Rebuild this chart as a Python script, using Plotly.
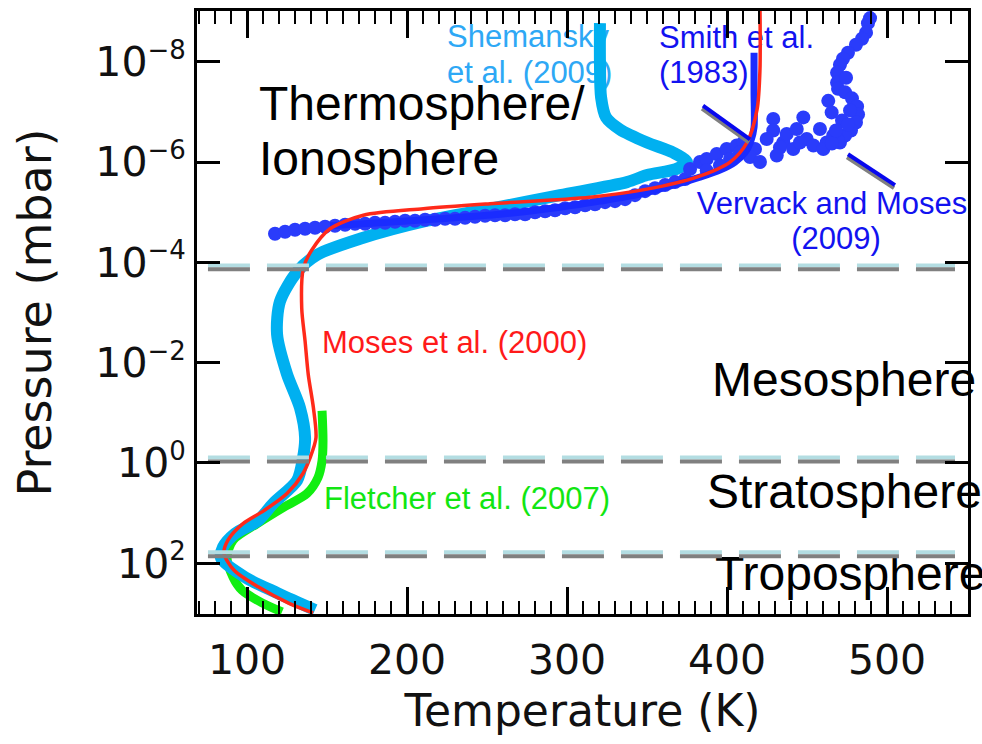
import plotly.graph_objects as go

# ---------------- data (Temperature in K, log10 of pressure in mbar) ----------------
moses_T = [141.3, 126.3, 106.9, 91.9, 85.6, 88.1, 97.5, 110.6, 125.0, 135.0, 139.4, 143.1,
           141.5, 138.3, 136.3, 134.2, 135.2, 140.4, 151.9, 172.7, 210.2, 251.9, 314.4,
           350.0, 381.0, 401.9, 412.5, 418.8, 420.6, 420.6]
moses_logp = [2.99, 2.80, 2.47, 2.14, 1.80, 1.54, 1.21, 0.95, 0.61, 0.21, -0.10, -0.50,
              -1.10, -1.76, -2.43, -3.09, -3.88, -4.24, -4.67, -4.94, -5.07, -5.17, -5.30,
              -5.46, -5.70, -6.00, -6.39, -7.05, -7.84, -9.10]

shemansky_T = [320.6, 320.6, 321.3, 324.4, 333.1, 350.0, 366.3, 375.0, 368.1, 350.0, 337.5,
               295.6, 253.8, 212.5, 170.6, 143.8, 131.3, 120.6, 118.8, 125.0, 133.1, 136.3,
               135.0, 131.3, 116.3, 106.9, 92.5, 85.0, 83.8, 98.8, 119.4, 142.5]
shemansky_logp = [-8.77, -7.98, -7.29, -6.89, -6.65, -6.39, -6.19, -6.00, -5.86, -5.74, -5.60,
                  -5.34, -5.08, -4.83, -4.47, -4.15, -3.81, -3.22, -2.56, -1.77, -1.10, -0.50,
                  -0.10, 0.35, 0.81, 1.15, 1.41, 1.68, 1.90, 2.28, 2.60, 2.93]

fletcher_T = [146.9, 147.5, 146.9, 144.4, 137.5, 122.5, 106.3, 91.3, 87.5, 91.3, 96.9, 109.4, 121.9]
fletcher_logp = [-1.04, -0.44, -0.04, 0.29, 0.61, 0.89, 1.21, 1.54, 1.88, 2.28, 2.54, 2.79, 2.97]

smith_T = [416.9, 416.9, 416.9, 415.0, 411.3, 405.0, 395.6, 383.1, 366.3, 345.6, 320.6,
           295.6, 258.1, 220.6, 183.1, 151.9]
smith_logp = [-8.18, -7.39, -6.69, -6.43, -6.19, -6.00, -5.84, -5.70, -5.54, -5.36, -5.22,
              -5.10, -4.96, -4.87, -4.79, -4.73]

vervack_T = [117.5, 123.8, 130.0, 136.3, 142.5, 148.8, 155.0, 161.3, 167.5, 173.8, 180.0,
             186.3, 192.5, 198.8, 205.0, 211.3, 217.5, 223.8, 230.0, 236.3, 242.5, 248.8,
             255.0, 261.3, 267.5, 273.8, 280.0, 286.3, 292.5, 298.8, 305.0, 311.3, 317.5,
             323.8, 330.0, 336.3, 342.5, 348.8, 355.0, 361.3, 367.5, 373.8,
             376.9, 383.1, 387.3, 393.6, 399.8, 406.1, 410.2, 408.1, 401.9, 395.6, 387.3,
             428.9, 428.9, 424.8, 417.5, 414.4, 435.2, 437.3, 443.6, 447.7, 449.8, 454.0,
             458.1, 463.3, 465.4, 462.3, 460.2, 470.6, 466.4, 433.1, 441.4, 445.6, 431.1, 420.6,
             489.4, 488.1, 486.9, 484.4, 480.6, 475.6, 472.5, 470.6, 468.8, 468.8, 469.4,
             473.8, 478.1, 481.3, 481.9, 480.6, 477.5, 473.8, 469.4, 465.6, 474.4, 476.9,
             471.9, 468.1, 475.6]
vervack_logp = [-4.57, -4.61, -4.65, -4.67, -4.69, -4.71, -4.73, -4.75, -4.77, -4.77, -4.79,
                -4.79, -4.81, -4.83, -4.83, -4.85, -4.85, -4.87, -4.87, -4.89, -4.91, -4.93,
                -4.94, -4.94, -4.96, -4.96, -5.00, -5.02, -5.04, -5.08, -5.10, -5.14, -5.16,
                -5.20, -5.22, -5.26, -5.34, -5.42, -5.48, -5.54, -5.60, -5.66,
                -5.86, -6.00, -6.06, -6.16, -6.26, -6.33, -6.39, -6.19, -6.06, -5.93, -5.83,
                -6.86, -6.63, -6.46, -6.26, -6.10, -6.39, -6.56, -6.66, -6.89, -6.46, -6.33,
                -6.66, -7.22, -6.99, -6.39, -6.26, -6.39, -6.53, -6.29, -6.26, -6.39, -6.13, -6.00,
                -8.87, -8.77, -8.58, -8.46, -8.34, -8.18, -8.06, -7.94, -7.78, -7.58, -7.46,
                -7.39, -7.27, -7.11, -6.95, -6.79, -6.63, -6.53, -6.43, -6.37, -7.68, -7.03,
                -6.83, -6.63, -6.75]

boundary_logp = [-3.90, -0.07, 1.82]   # region boundaries (log10 mbar)
boundary_T = [75.6, 542.5]

xtick_vals = [100, 200, 300, 400, 500]
ytick_vals = [1e-8, 1e-6, 1e-4, 1e-2, 1e0, 1e2]
ytick_exp = ["\u22128", "\u22126", "\u22124", "\u22122", "0", "2"]

# ---------------- geometry ----------------
W, H = 982, 744
L, R, T_, B = 197, 14, 8, 130
XMIN, XMAX = 68.75, 550.625
YBOT, YTOP = 3.012, -9.012   # log10 p at bottom / top


def tx(px):
    return XMIN + (px - L) / (W - R - L) * (XMAX - XMIN)


def py_(py):
    return 10 ** (YTOP + (py - T_) / (H - B - T_) * (YBOT - YTOP))


def P(lst):
    return [10 ** v for v in lst]


FONT = "Liberation Sans, Arial, sans-serif"
AXFONT = "DejaVu Sans, sans-serif"
fig = go.Figure()


def label(x, baseline, text, size, color, pos="middle right"):
    # x: left edge (or centre) in pixels, baseline: text baseline in pixels
    fig.add_trace(go.Scatter(x=[tx(x)], y=[py_(baseline - 0.35 * size)], mode="text",
                             text=[text], textposition=pos, cliponaxis=False,
                             hoverinfo="skip", marker=dict(size=0),
                             textfont=dict(family=FONT, size=size, color=color)))


BIG, SMALL = 48, 31
# text labels (drawn beneath the curves)
label(259, 122, "Thermosphere/", BIG, "black")
label(259, 178, "Ionosphere", BIG, "black")
label(712, 400, "Mesosphere", BIG, "black")
label(707, 512, "Stratosphere", BIG, "black")
label(715, 595, "Troposphere", BIG, "black")
label(447, 47, "Shemansky", SMALL, "#2ea8f5")
label(447, 83, "et al. (2009)", SMALL, "#2ea8f5")
label(659, 48, "Smith et al.", SMALL, "#1212f0")
label(659, 83, "(1983)", SMALL, "#1212f0")
label(832, 215, "Vervack and Moses", SMALL, "#1212f0", pos="middle center")
label(836, 250, "(2009)", SMALL, "#1212f0", pos="middle center")
label(322, 355, "Moses et al. (2000)", SMALL, "#ff1a1a")
label(324, 512, "Fletcher et al. (2007)", SMALL, "#12e612")

# curves
fig.add_trace(go.Scatter(x=fletcher_T, y=P(fletcher_logp), mode="lines",
                         line=dict(color="#11ee11", width=9, shape="spline", smoothing=0.8),
                         hoverinfo="skip"))
fig.add_trace(go.Scatter(x=shemansky_T, y=P(shemansky_logp), mode="lines",
                         line=dict(color="#00b0f0", width=12, shape="spline", smoothing=0.8),
                         hoverinfo="skip"))
fig.add_trace(go.Scatter(x=vervack_T, y=P(vervack_logp), mode="markers",
                         marker=dict(color="#2a3cfb", size=14, line=dict(width=0)),
                         hoverinfo="skip"))
fig.add_trace(go.Scatter(x=smith_T, y=P(smith_logp), mode="lines",
                         line=dict(color="#1a2cff", width=7, shape="spline", smoothing=0.8),
                         hoverinfo="skip"))
fig.add_trace(go.Scatter(x=moses_T, y=P(moses_logp), mode="lines",
                         line=dict(color="#ff2a1a", width=3.5, shape="spline", smoothing=0.8),
                         hoverinfo="skip"))

# region boundaries: light band above a grey band
off = 2 / 50.5
for lp in boundary_logp:
    fig.add_trace(go.Scatter(x=boundary_T, y=[10 ** (lp - off)] * 2, mode="lines",
                             line=dict(color="#b3dde2", width=4, dash="42px,17px"),
                             hoverinfo="skip"))
    fig.add_trace(go.Scatter(x=boundary_T, y=[10 ** (lp + off)] * 2, mode="lines",
                             line=dict(color="#808080", width=4, dash="42px,17px"),
                             hoverinfo="skip"))

# pointer lines with grey shadow
for (xa, ya, xb, yb) in [(703, 103, 750, 137), (848, 152, 895, 183)]:
    fig.add_trace(go.Scatter(x=[tx(xa - 1), tx(xb - 1)], y=[py_(ya + 3), py_(yb + 3)],
                             mode="lines", line=dict(color="#808080", width=4),
                             hoverinfo="skip", cliponaxis=False))
    fig.add_trace(go.Scatter(x=[tx(xa), tx(xb)], y=[py_(ya), py_(yb)],
                             mode="lines", line=dict(color="#0808ee", width=4),
                             hoverinfo="skip", cliponaxis=False))

ytick_text = ["10<sup><span style='font-size:26px'>%s</span></sup>" % e for e in ytick_exp]

fig.update_layout(
    width=W, height=H, margin=dict(l=L, r=R, t=T_, b=B),
    paper_bgcolor="white", plot_bgcolor="white", showlegend=False,
    font=dict(family=AXFONT, color="black"),
    xaxis=dict(range=[XMIN, XMAX], tickvals=xtick_vals, ticks="inside", ticklen=27,
               tickwidth=2.5, tickcolor="black", showline=True, linewidth=3,
               linecolor="black", mirror="ticks", showgrid=False, zeroline=False,
               tickfont=dict(size=41, family=AXFONT, color="#111111"), ticklabelstandoff=8,
               minor=dict(dtick=10, tick0=0, ticks="inside", ticklen=13, tickwidth=2,
                          tickcolor="black", showgrid=False),
               title=dict(text="Temperature (K)",
                          font=dict(size=44, family=AXFONT, color="#111111"), standoff=12)),
    yaxis=dict(type="log", range=[YBOT, YTOP], tickvals=ytick_vals, ticktext=ytick_text,
               ticks="inside", ticklen=23, tickwidth=2.5, tickcolor="black",
               showline=True, linewidth=3, linecolor="black", mirror="ticks",
               showgrid=False, zeroline=False,
               tickfont=dict(size=41, family=AXFONT, color="#111111"),
               title=dict(text="Pressure (mbar)",
                          font=dict(size=46, family=AXFONT, color="#111111"), standoff=30)),
)

fig.write_html("out.html")
